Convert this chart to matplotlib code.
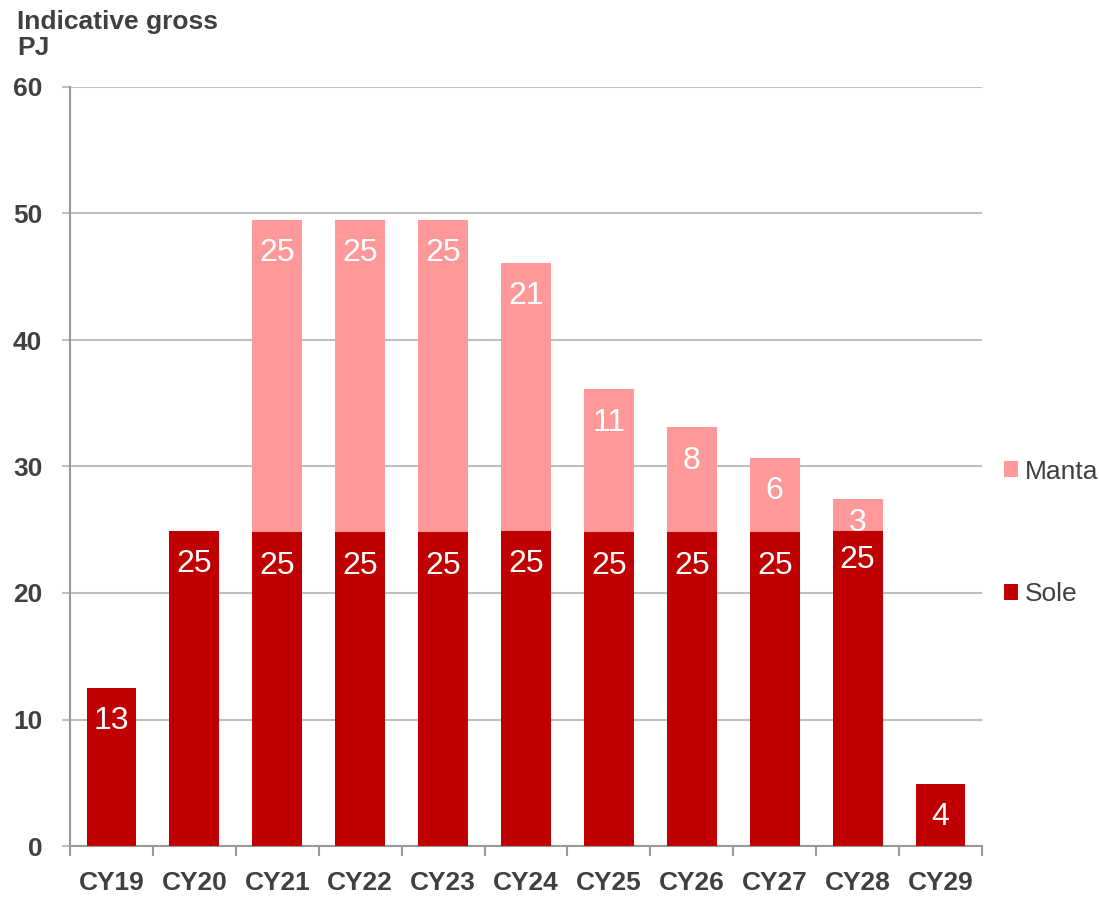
import matplotlib
matplotlib.use("Agg")
import matplotlib.pyplot as plt
from matplotlib.patches import Patch
import numpy as np

categories = ["CY19", "CY20", "CY21", "CY22", "CY23", "CY24", "CY25", "CY26", "CY27", "CY28", "CY29"]
sole = [12.5, 24.9, 24.8, 24.8, 24.8, 24.9, 24.8, 24.8, 24.8, 24.9, 4.9]
manta = [0, 0, 24.7, 24.7, 24.7, 21.2, 11.3, 8.3, 5.9, 2.5, 0]
sole_labels = ["13", "25", "25", "25", "25", "25", "25", "25", "25", "25", "4"]
manta_labels = ["", "", "25", "25", "25", "21", "11", "8", "6", "3", ""]
yticks = [0, 10, 20, 30, 40, 50, 60]

plt.rcParams['font.family'] = ['Liberation Sans', 'DejaVu Sans']

SOLE_C = "#C00000"
MANTA_C = "#FF9999"
TXT = "#404040"
GRID = "#BFBFBF"
AXC = "#999999"

fig = plt.figure(figsize=(10.99, 8.97), dpi=100)
ax = fig.add_axes([70/1099, 51/897, 912/1099, 759/897])

x = np.arange(len(categories))
ax.bar(x, sole, width=0.6, color=SOLE_C, zorder=3)
ax.bar(x, manta, width=0.6, bottom=sole, color=MANTA_C, zorder=3)

# data labels (offset in points below segment top)
sole_off = [-24] * len(categories)
manta_off = [-24] * len(categories)
sole_off[9] = -21
manta_off[9] = -17
for i in range(len(categories)):
    if sole_labels[i]:
        ax.annotate(sole_labels[i], (x[i], sole[i]), xytext=(0, sole_off[i]),
                    textcoords="offset points", ha="center", va="center",
                    color="white", fontsize=23, zorder=4)
    if manta_labels[i]:
        ax.annotate(manta_labels[i], (x[i], sole[i] + manta[i]), xytext=(0, manta_off[i]),
                    textcoords="offset points", ha="center", va="center",
                    color="white", fontsize=23, zorder=4)

ax.set_xlim(-0.5, len(categories) - 0.5)
ax.set_ylim(0, 60)
ax.set_yticks(yticks)
ax.set_yticklabels([str(v) for v in yticks], fontsize=19, fontweight="bold", color=TXT)
ax.set_xticks(x)
ax.set_xticklabels(categories, fontsize=19, fontweight="bold", color=TXT)
ax.set_xticks(np.arange(-0.5, len(categories)), minor=True)
ax.tick_params(axis="x", which="major", length=0, pad=18)
ax.tick_params(axis="x", which="minor", length=7, width=1.5, color=AXC, direction="out")
ax.tick_params(axis="y", which="major", length=6, width=1.5, color=GRID, pad=14)

ax.grid(axis="y", color=GRID, linewidth=1.5, zorder=0)
for s in ["top", "right"]:
    ax.spines[s].set_visible(False)
ax.spines["left"].set_color(AXC)
ax.spines["left"].set_linewidth(1.5)
ax.spines["bottom"].set_color(AXC)
ax.spines["bottom"].set_linewidth(1.5)

fig.text(17/1099, 1 - 22/897, "Indicative gross", fontsize=19, fontweight="bold",
         color=TXT, ha="left", va="center")
fig.text(17/1099, 1 - 48/897, "PJ", fontsize=19, fontweight="bold",
         color=TXT, ha="left", va="center")

handles = [Patch(facecolor=MANTA_C, edgecolor="none"), Patch(facecolor=SOLE_C, edgecolor="none")]
leg = fig.legend(handles, ["Manta", "Sole"], loc="center left",
                 bbox_to_anchor=(1004/1099, 1 - 533/897), frameon=False,
                 fontsize=19, labelspacing=3.75, handlelength=0.53, handleheight=0.53,
                 handletextpad=0.25, borderaxespad=0, borderpad=0)
for t in leg.get_texts():
    t.set_color(TXT)

fig.savefig("out.png", dpi=100)
